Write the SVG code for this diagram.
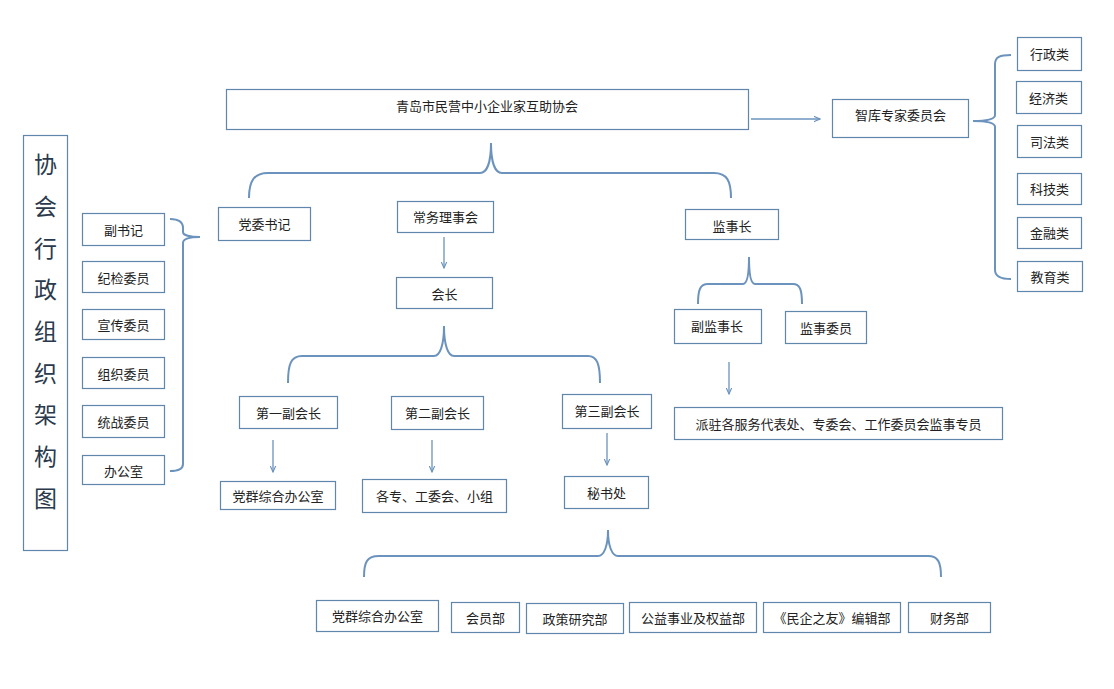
<svg xmlns="http://www.w3.org/2000/svg" width="1114" height="689" viewBox="0 0 1114 689">
<defs>
<style>
.b{fill:#fff;stroke:#5f87ab;stroke-width:1.2}
.t{font-family:"Noto Sans CJK SC","Noto Sans CJK JP",sans-serif;font-size:13px;fill:#222;text-anchor:middle;dominant-baseline:central}
.tt{font-family:"Noto Sans CJK SC","Noto Sans CJK JP",sans-serif;font-size:23px;fill:#2a3a4c;text-anchor:middle;dominant-baseline:central}
.br{fill:none;stroke:#6b93bd;stroke-width:2}
.ar{fill:none;stroke:#6b93bd;stroke-width:1.3;marker-end:url(#ah)}
</style>
<marker id="ah" viewBox="0 0 10 10" refX="9" refY="5" markerWidth="7" markerHeight="7" markerUnits="userSpaceOnUse" orient="auto">
<path d="M0,1 L9,5 L0,9" fill="none" stroke="#6b93bd" stroke-width="1.6"/>
</marker>
</defs>
<rect width="1114" height="689" fill="#fff"/>

<g id="connectors">
<!-- top bracket -->
<path class="br" d="M249,198 C249,181 254,173 268,173 L480,173 C487,173 491,162 491,143 C491,162 495,173 502,173 L714,173 C727,173 731,181 731,198"/>
<!-- left bracket -->
<path class="br" d="M170,219 C178,219 183,221 183,228 L183,232 C183,235 190,237 200,237 C190,237 183,239 183,243 L183,464 C183,469 178,471 170,471"/>
<!-- right bracket -->
<path class="br" d="M1011,55 C1000,55 995,57 995,64 L995,115 C995,119 988,121 973,121 C988,121 995,123 995,127 L995,270 C995,276 1000,279 1011,279"/>
<!-- 会长 bracket -->
<path class="br" d="M288,383 C288,364 291,356 302,356 L434,356 C440,356 444,345 444,326 C444,345 448,356 454,356 L588,356 C597,356 600,364 600,383"/>
<!-- 监事长 bracket -->
<path class="br" d="M698,304 C698,290 700,284 708,284 L743,284 C747,284 749,275 749,257 C749,275 751,284 755,284 L793,284 C800,284 802,290 802,304"/>
<!-- 秘书处 bracket -->
<path class="br" d="M364,577 C364,562 367,556 379,556 L598,556 C604,556 608,546 608,530 C608,546 612,556 618,556 L928,556 C938,556 941,562 941,577"/>
<!-- arrows -->
<path class="ar" d="M751,119 L820,119"/>
<path class="ar" d="M444,237 L444,268"/>
<path class="ar" d="M273,440 L273,472"/>
<path class="ar" d="M432,440 L432,472"/>
<path class="ar" d="M607,433 L607,465"/>
<path class="ar" d="M729,362 L729,394"/>
</g>

<g id="title">
<rect class="b" x="23.5" y="135.5" width="44" height="415"/>
<text class="tt" x="45.5" y="163">协</text>
<text class="tt" x="45.5" y="205">会</text>
<text class="tt" x="45.5" y="247">行</text>
<text class="tt" x="45.5" y="288">政</text>
<text class="tt" x="45.5" y="330">组</text>
<text class="tt" x="45.5" y="372">织</text>
<text class="tt" x="45.5" y="413">架</text>
<text class="tt" x="45.5" y="455">构</text>
<text class="tt" x="45.5" y="497">图</text>
</g>

<g id="n-fushuji"><rect class="b" x="82.5" y="213.5" width="82" height="32"/><text class="t" x="123.5" y="229.5">副书记</text></g>
<g id="n-jijian"><rect class="b" x="82.5" y="261.5" width="82" height="31"/><text class="t" x="123.5" y="277">纪检委员</text></g>
<g id="n-xuanchuan"><rect class="b" x="82.5" y="309.5" width="82" height="30"/><text class="t" x="123.5" y="324.5">宣传委员</text></g>
<g id="n-zuzhi"><rect class="b" x="82.5" y="357.5" width="82" height="31"/><text class="t" x="123.5" y="373">组织委员</text></g>
<g id="n-tongzhan"><rect class="b" x="82.5" y="405.5" width="82" height="32"/><text class="t" x="123.5" y="421.5">统战委员</text></g>
<g id="n-bangongshi"><rect class="b" x="82.5" y="455.5" width="82" height="29"/><text class="t" x="123.5" y="470">办公室</text></g>

<g id="n-main"><rect class="b" x="226.5" y="89.5" width="522" height="40"/><text class="t" x="487" y="105">青岛市民营中小企业家互助协会</text></g>
<g id="n-zhiku"><rect class="b" x="832.5" y="99.5" width="136" height="38"/><text class="t" x="900.5" y="114">智库专家委员会</text></g>

<g id="n-xingzheng"><rect class="b" x="1017.5" y="37.5" width="64" height="33"/><text class="t" x="1049.5" y="53.5">行政类</text></g>
<g id="n-jingji"><rect class="b" x="1016.5" y="81.5" width="65" height="32"/><text class="t" x="1048.5" y="97">经济类</text></g>
<g id="n-sifa"><rect class="b" x="1017.5" y="125.5" width="64" height="32"/><text class="t" x="1049.5" y="141">司法类</text></g>
<g id="n-keji"><rect class="b" x="1017.5" y="173.5" width="64" height="31"/><text class="t" x="1049.5" y="188.5">科技类</text></g>
<g id="n-jinrong"><rect class="b" x="1017.5" y="217.5" width="64" height="31"/><text class="t" x="1049.5" y="232.5">金融类</text></g>
<g id="n-jiaoyu"><rect class="b" x="1017.5" y="261.5" width="65" height="30"/><text class="t" x="1050" y="276.5">教育类</text></g>

<g id="n-dangwei"><rect class="b" x="218.5" y="207.5" width="92" height="33"/><text class="t" x="264.5" y="223">党委书记</text></g>
<g id="n-changwu"><rect class="b" x="397.5" y="201.5" width="96" height="31"/><text class="t" x="445.5" y="216.5">常务理事会</text></g>
<g id="n-huizhang"><rect class="b" x="396.5" y="277.5" width="96" height="31"/><text class="t" x="444.5" y="293">会长</text></g>
<g id="n-jianshizhang"><rect class="b" x="685.5" y="209.5" width="93" height="30"/><text class="t" x="732" y="225.5">监事长</text></g>

<g id="n-fu1"><rect class="b" x="239.5" y="396.5" width="98" height="32"/><text class="t" x="288.5" y="412">第一副会长</text></g>
<g id="n-fu2"><rect class="b" x="391.5" y="396.5" width="92" height="33"/><text class="t" x="437.5" y="412">第二副会长</text></g>
<g id="n-fu3"><rect class="b" x="562.5" y="394.5" width="89" height="34"/><text class="t" x="607" y="410">第三副会长</text></g>

<g id="n-dangqun1"><rect class="b" x="220.5" y="481.5" width="115" height="28"/><text class="t" x="278" y="495.5">党群综合办公室</text></g>
<g id="n-gezhuan"><rect class="b" x="362.5" y="479.5" width="144" height="33"/><text class="t" x="434.5" y="495.5">各专、工委会、小组</text></g>
<g id="n-mishu"><rect class="b" x="564.5" y="476.5" width="84" height="32"/><text class="t" x="606.5" y="492">秘书处</text></g>

<g id="n-fujianshi"><rect class="b" x="674.5" y="309.5" width="87" height="34"/><text class="t" x="717" y="325">副监事长</text></g>
<g id="n-jianshiweiyuan"><rect class="b" x="785.5" y="311.5" width="81" height="32"/><text class="t" x="826" y="327">监事委员</text></g>
<g id="n-paizhu"><rect class="b" x="674.5" y="407.5" width="328" height="32"/><text class="t" x="838.5" y="423">派驻各服务代表处、专委会、工作委员会监事专员</text></g>

<g id="n-dangqun2"><rect class="b" x="316.5" y="600.5" width="122" height="31"/><text class="t" x="377.5" y="615">党群综合办公室</text></g>
<g id="n-huiyuan"><rect class="b" x="451.5" y="602.5" width="68" height="30"/><text class="t" x="485.5" y="617">会员部</text></g>
<g id="n-zhengce"><rect class="b" x="526.5" y="603.5" width="97" height="30"/><text class="t" x="575" y="618.5">政策研究部</text></g>
<g id="n-gongyi"><rect class="b" x="629.5" y="602.5" width="127" height="30"/><text class="t" x="693" y="617">公益事业及权益部</text></g>
<g id="n-minqi"><rect class="b" x="763.5" y="602.5" width="137" height="30"/><text class="t" x="832" y="617">《民企之友》编辑部</text></g>
<g id="n-caiwu"><rect class="b" x="908.5" y="602.5" width="82" height="30"/><text class="t" x="949.5" y="617">财务部</text></g>
</svg>
